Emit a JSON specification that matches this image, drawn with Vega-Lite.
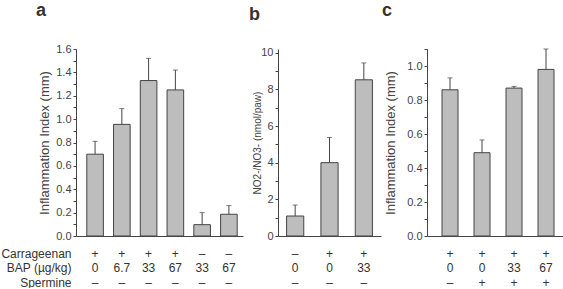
{
  "$schema": "https://vega.github.io/schema/vega-lite/v6.json",
  "background": "white",
  "padding": {"left": 0, "top": 2, "right": 0, "bottom": 0},
  "config": {
    "font": "Liberation Sans",
    "view": {"stroke": null},
    "axis": {"domainColor": "#444", "tickColor": "#444", "labelColor": "#444", "titleColor": "#444", "grid": false, "titleFontWeight": "normal"},
    "axisY": {"tickSize": 3, "labelFontSize": 11, "labelPadding": 2, "labelOverlap": false},
    "axisX": {"ticks": false, "tickSize": 0, "labelAngle": 0, "labelFontSize": 12, "labelBaseline": "top", "labelPadding": 12, "labelLineHeight": 14.5, "labelColor": "#333", "labelOverlap": false},
    "title": {"fontSize": 18, "fontWeight": "bold", "color": "#333", "anchor": "start", "frame": "group", "offset": 23}
  },
  "datasets": {
    "a": [
      {"grp": "+|0|–", "value": 0.70, "err": 0.81},
      {"grp": "+|6.7|–", "value": 0.955, "err": 1.09},
      {"grp": "+|33|–", "value": 1.33, "err": 1.52},
      {"grp": "+|67|–", "value": 1.25, "err": 1.42},
      {"grp": "–|33|–", "value": 0.097, "err": 0.20},
      {"grp": "–|67|–", "value": 0.186, "err": 0.26}
    ],
    "b": [
      {"grp": "–|0|–", "value": 1.09, "err": 1.69},
      {"grp": "+|0|–", "value": 4.0, "err": 5.37},
      {"grp": "+|33|–", "value": 8.52, "err": 9.44}
    ],
    "c": [
      {"grp": "+|0|–", "value": 0.86, "err": 0.93},
      {"grp": "+|0|+", "value": 0.49, "err": 0.565},
      {"grp": "+|33|+", "value": 0.87, "err": 0.88},
      {"grp": "+|67|+", "value": 0.98, "err": 1.10}
    ]
  },
  "bounds": "flush",
  "spacing": 35,
  "hconcat": [
    {
      "width": 167, "height": 187,
      "data": {"name": "a"},
      "title": {"text": "a", "dx": -40},
      "encoding": {
        "x": {"field": "grp", "type": "nominal", "sort": null,
          "scale": {"paddingInner": 0.38, "paddingOuter": 0.31, "align": 0.65},
          "axis": {"labelExpr": "split(datum.label, '|')",
            "title": ["Carrageenan", "BAP (µg/kg)", "Spermine"],
            "titleFontSize": 12, "titleAlign": "right", "titleAngle": 0, "titleBaseline": "top",
            "titleX": -5, "titleY": 12, "titleLineHeight": 14.5, "titleColor": "#333"}},
        "y": {"field": "value", "type": "quantitative", "scale": {"domain": [0, 1.6]},
          "axis": {"values": [0, 0.1, 0.2, 0.3, 0.4, 0.5, 0.6, 0.7, 0.8, 0.9, 1.0, 1.1, 1.2, 1.3, 1.4, 1.5, 1.6],
            "labelExpr": "round(datum.value*10)%2==0 ? format(datum.value, '.1f') : ''",
            "title": "Inflammation Index (mm)", "titleFontSize": 13, "titleX": -32, "titleBaseline": "middle"}}
      },
      "layer": [
        {"mark": {"type": "bar", "fill": "#bdbdbd", "stroke": "#444", "strokeWidth": 1}},
        {"mark": {"type": "rule", "color": "#444"},
          "encoding": {"y2": {"field": "err"}}},
        {"mark": {"type": "tick", "color": "#444", "size": 5, "thickness": 1},
          "encoding": {"y": {"field": "err", "type": "quantitative",
            "axis": {"values": [0, 0.1, 0.2, 0.3, 0.4, 0.5, 0.6, 0.7, 0.8, 0.9, 1.0, 1.1, 1.2, 1.3, 1.4, 1.5, 1.6],
              "labelExpr": "round(datum.value*10)%2==0 ? format(datum.value, '.1f') : ''",
              "title": "Inflammation Index (mm)", "titleFontSize": 13, "titleX": -32, "titleBaseline": "middle"}}}}
      ]
    },
    {
      "bounds": "flush",
      "spacing": 46,
      "hconcat": [
        {
          "width": 103, "height": 187,
          "data": {"name": "b"},
          "title": {"text": "b", "dx": -29},
          "encoding": {
            "x": {"field": "grp", "type": "nominal", "sort": null,
              "scale": {"paddingInner": 0.5, "paddingOuter": 0.25, "align": 0.5},
              "axis": {"labelExpr": "split(datum.label, '|')", "title": null}},
            "y": {"field": "value", "type": "quantitative", "scale": {"domain": [0, 10.2]},
              "axis": {"values": [0, 1, 2, 3, 4, 5, 6, 7, 8, 9, 10],
                "labelExpr": "datum.value%2==0 ? datum.label : ''",
                "title": "NO2-/NO3- (nmol/paw)", "titleFontSize": 10, "titleX": -21, "titleBaseline": "middle"}}
          },
          "layer": [
            {"mark": {"type": "bar", "fill": "#bdbdbd", "stroke": "#444", "strokeWidth": 1}},
            {"mark": {"type": "rule", "color": "#444"},
              "encoding": {"y2": {"field": "err"}}},
            {"mark": {"type": "tick", "color": "#444", "size": 5, "thickness": 1},
              "encoding": {"y": {"field": "err", "type": "quantitative",
                "axis": {"values": [0, 1, 2, 3, 4, 5, 6, 7, 8, 9, 10],
                  "labelExpr": "datum.value%2==0 ? datum.label : ''",
                  "title": "NO2-/NO3- (nmol/paw)", "titleFontSize": 10, "titleX": -21, "titleBaseline": "middle"}}}}
          ]
        },
        {
          "width": 136, "height": 187,
          "data": {"name": "c"},
          "title": {"text": "c", "dx": -45},
          "encoding": {
            "x": {"field": "grp", "type": "nominal", "sort": null,
              "scale": {"paddingInner": 0.5, "paddingOuter": 0.375, "align": 0.625},
              "axis": {"labelExpr": "split(datum.label, '|')", "title": null}},
            "y": {"field": "value", "type": "quantitative", "scale": {"domain": [0, 1.1]},
              "axis": {"values": [0, 0.1, 0.2, 0.3, 0.4, 0.5, 0.6, 0.7, 0.8, 0.9, 1.0, 1.1],
                "labelExpr": "round(datum.value*10)%2==0 && datum.value < 1.05 ? format(datum.value, '.1f') : ''",
                "title": "Inflammation Index (mm)", "titleFontSize": 13, "titleX": -37, "titleBaseline": "middle"}}
          },
          "layer": [
            {"mark": {"type": "bar", "fill": "#bdbdbd", "stroke": "#444", "strokeWidth": 1}},
            {"mark": {"type": "rule", "color": "#444"},
              "encoding": {"y2": {"field": "err"}}},
            {"mark": {"type": "tick", "color": "#444", "size": 5, "thickness": 1},
              "encoding": {"y": {"field": "err", "type": "quantitative",
                "axis": {"values": [0, 0.1, 0.2, 0.3, 0.4, 0.5, 0.6, 0.7, 0.8, 0.9, 1.0, 1.1],
                  "labelExpr": "round(datum.value*10)%2==0 && datum.value < 1.05 ? format(datum.value, '.1f') : ''",
                  "title": "Inflammation Index (mm)", "titleFontSize": 13, "titleX": -37, "titleBaseline": "middle"}}}}
          ]
        }
      ]
    }
  ]
}
